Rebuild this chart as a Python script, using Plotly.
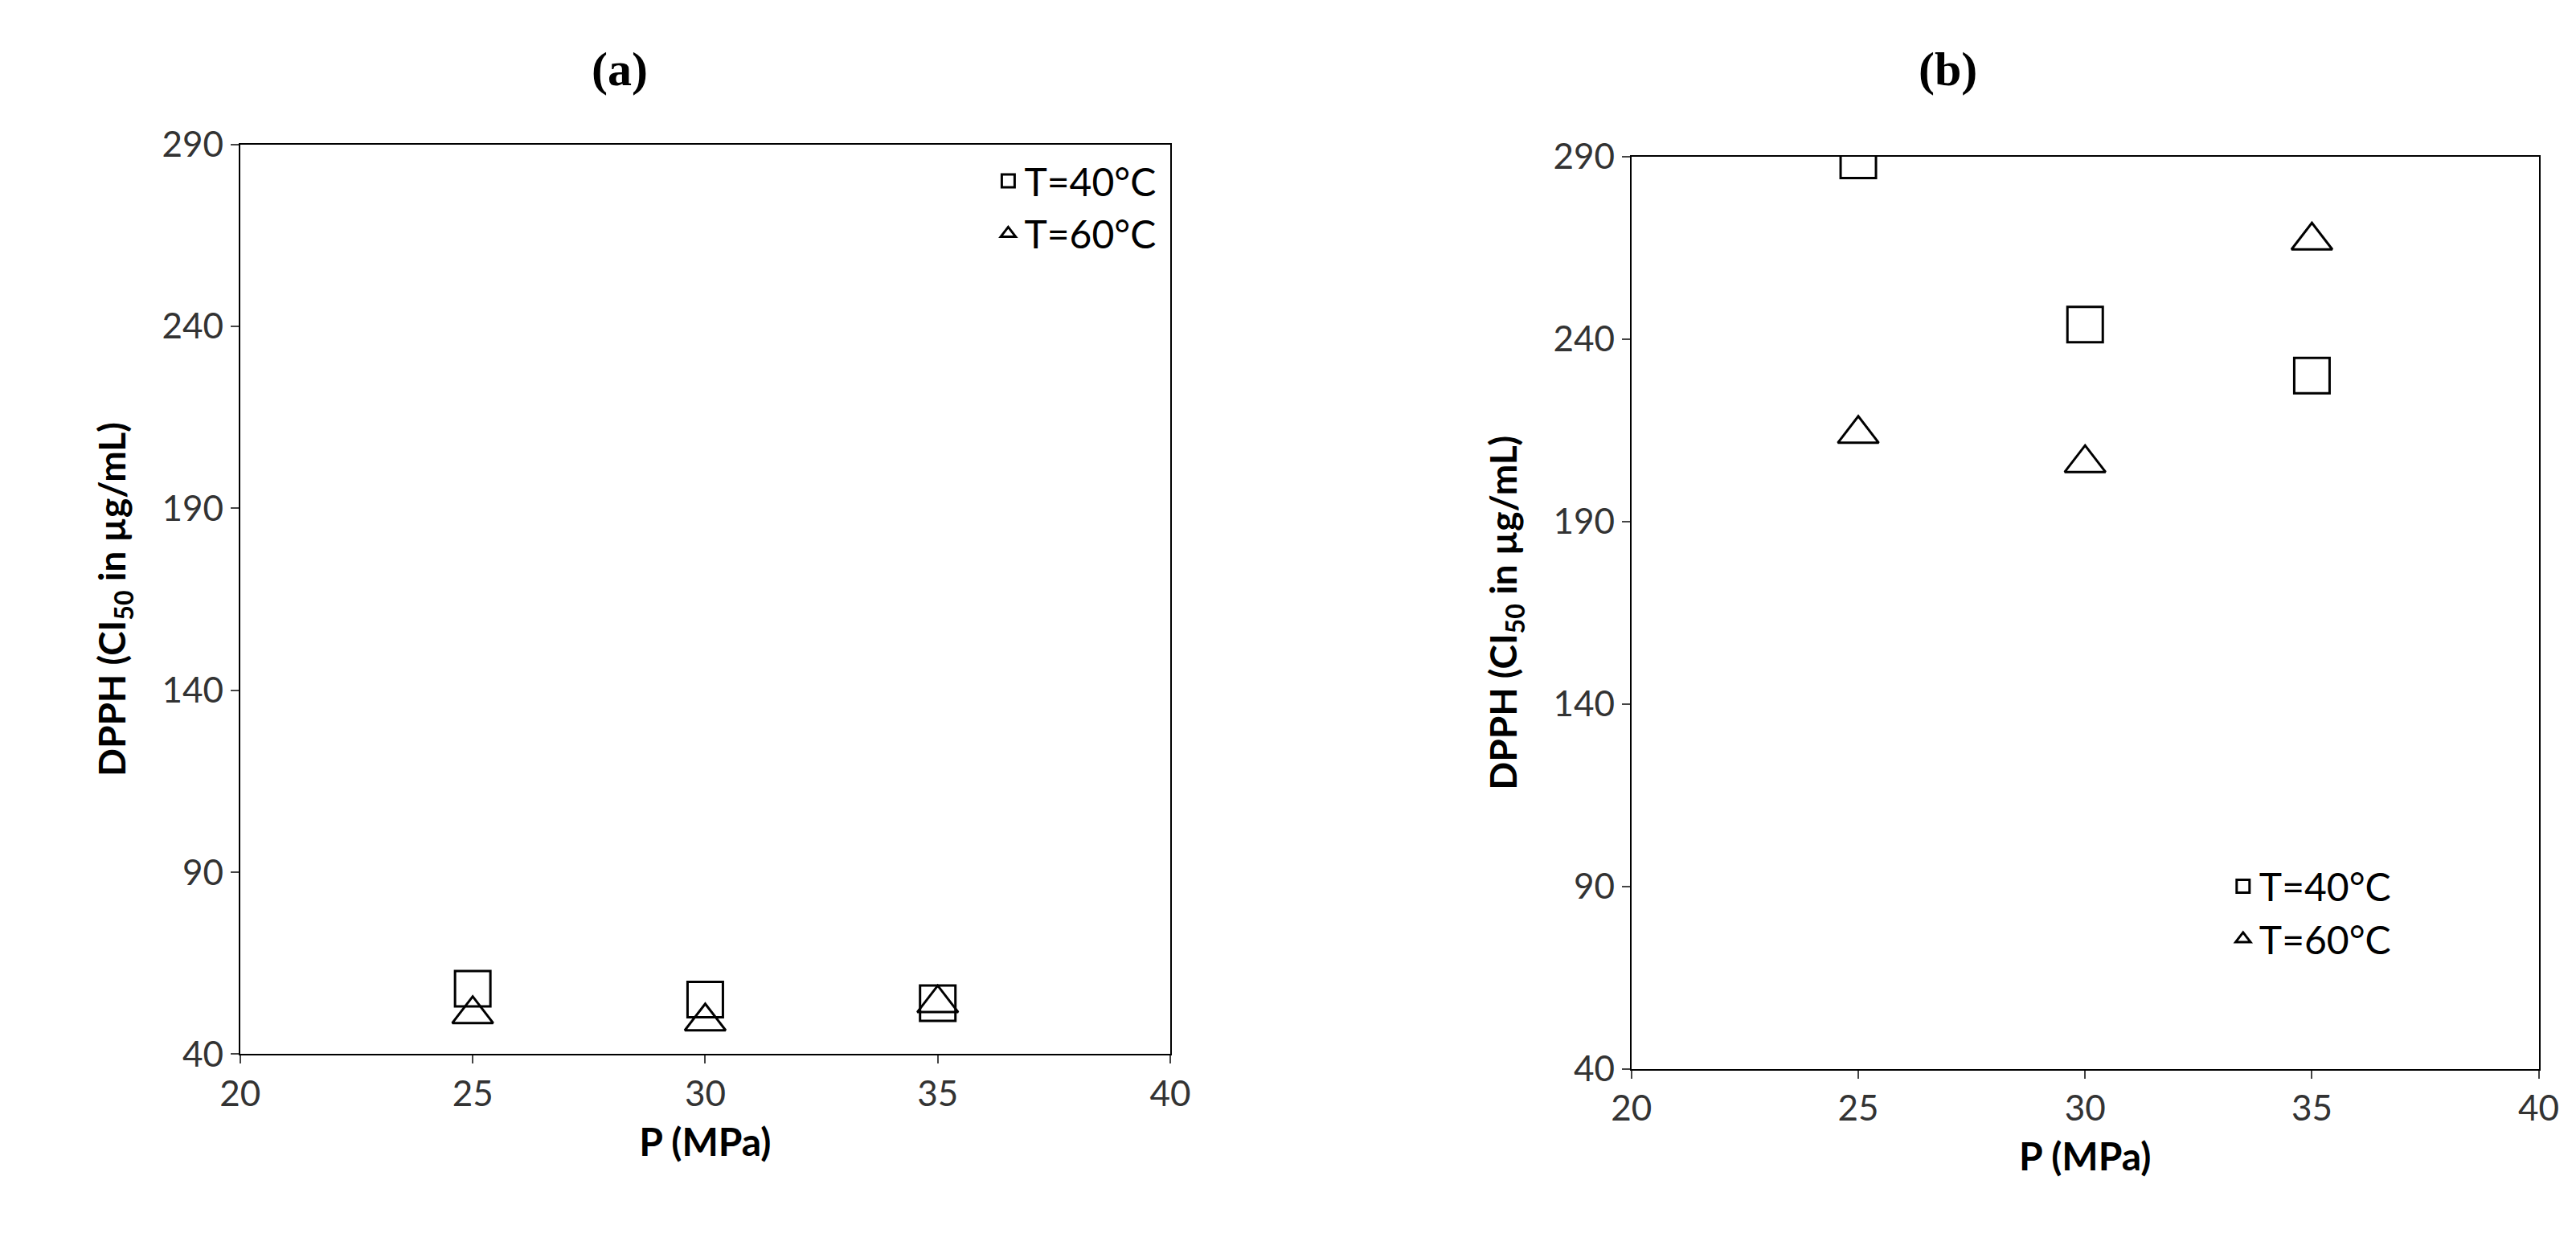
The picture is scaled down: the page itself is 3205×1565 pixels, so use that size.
import plotly.graph_objects as go

P = [25, 30, 35]
a_T40 = [58, 55, 54]
a_T60 = [51, 49, 54]
b_T40 = [289, 244, 230]
b_T60 = [214, 206, 267]
y_ticks = [40, 90, 140, 190, 240, 290]
x_ticks = [20, 25, 30, 35, 40]

F = "Lato, Open Sans, sans-serif"
fig = go.Figure()
def add(x, y, sym, name, xa, ya, leg):
    fig.add_trace(go.Scatter(x=x, y=y, mode="markers", name=name, xaxis=xa, yaxis=ya, legend=leg,
        marker=dict(symbol=sym, size=44, color="black", line=dict(color="black", width=3))))
add(P, a_T40, "square-open", "T=40°C", "x", "y", "legend")
add(P, a_T60, "triangle-up-open", "T=60°C", "x", "y", "legend")
add(P, b_T40, "square-open", "T=40°C", "x2", "y2", "legend2")
add(P, b_T60, "triangle-up-open", "T=60°C", "x2", "y2", "legend2")

ax = dict(showline=True, mirror=True, linecolor="black", linewidth=2, showgrid=False, zeroline=False,
          ticks="outside", ticklen=10, tickwidth=2, tickfont=dict(family=F, size=44, color="#333"))
ytitle = dict(text="<b>DPPH (CI<sub>50</sub> in µg/mL)</b>", font=dict(family=F, size=46, color="black"), standoff=30)
xtitle = dict(text="<b>P (MPa)</b>", font=dict(family=F, size=48, color="black"), standoff=20)
leg = dict(font=dict(family=F, size=48, color="black"), bgcolor="rgba(0,0,0,0)", itemsizing="trace", tracegroupgap=20)

fig.update_layout(
    width=3205, height=1565, margin=dict(l=0, r=0, t=0, b=0),
    plot_bgcolor="white", paper_bgcolor="white", showlegend=True,
    xaxis=dict(domain=[0.084, 0.451], range=[20, 40], tickvals=x_ticks, title=xtitle, anchor="y", **ax),
    yaxis=dict(domain=[0.157, 0.905], range=[40, 290], tickvals=y_ticks, title=ytitle, anchor="x", **ax),
    xaxis2=dict(domain=[0.633, 0.991], range=[20, 40], tickvals=x_ticks, title=xtitle, anchor="y2", **ax),
    yaxis2=dict(domain=[0.145, 0.895], range=[40, 290], tickvals=y_ticks, title=ytitle, anchor="x2", **ax),
    legend=dict(x=0.447, y=0.90, xanchor="right", yanchor="top", **leg),
    legend2=dict(x=0.868, y=0.32, xanchor="left", yanchor="top", **leg),
    annotations=[
        dict(text="<b>(a)</b>", x=0.222, y=0.99, xref="paper", yref="paper", showarrow=False,
             font=dict(family="Liberation Serif", size=60, color="black"), yanchor="top"),
        dict(text="<b>(b)</b>", x=0.77, y=0.99, xref="paper", yref="paper", showarrow=False,
             font=dict(family="Liberation Serif", size=60, color="black"), yanchor="top"),
    ],
)
fig.write_html("out.html")
